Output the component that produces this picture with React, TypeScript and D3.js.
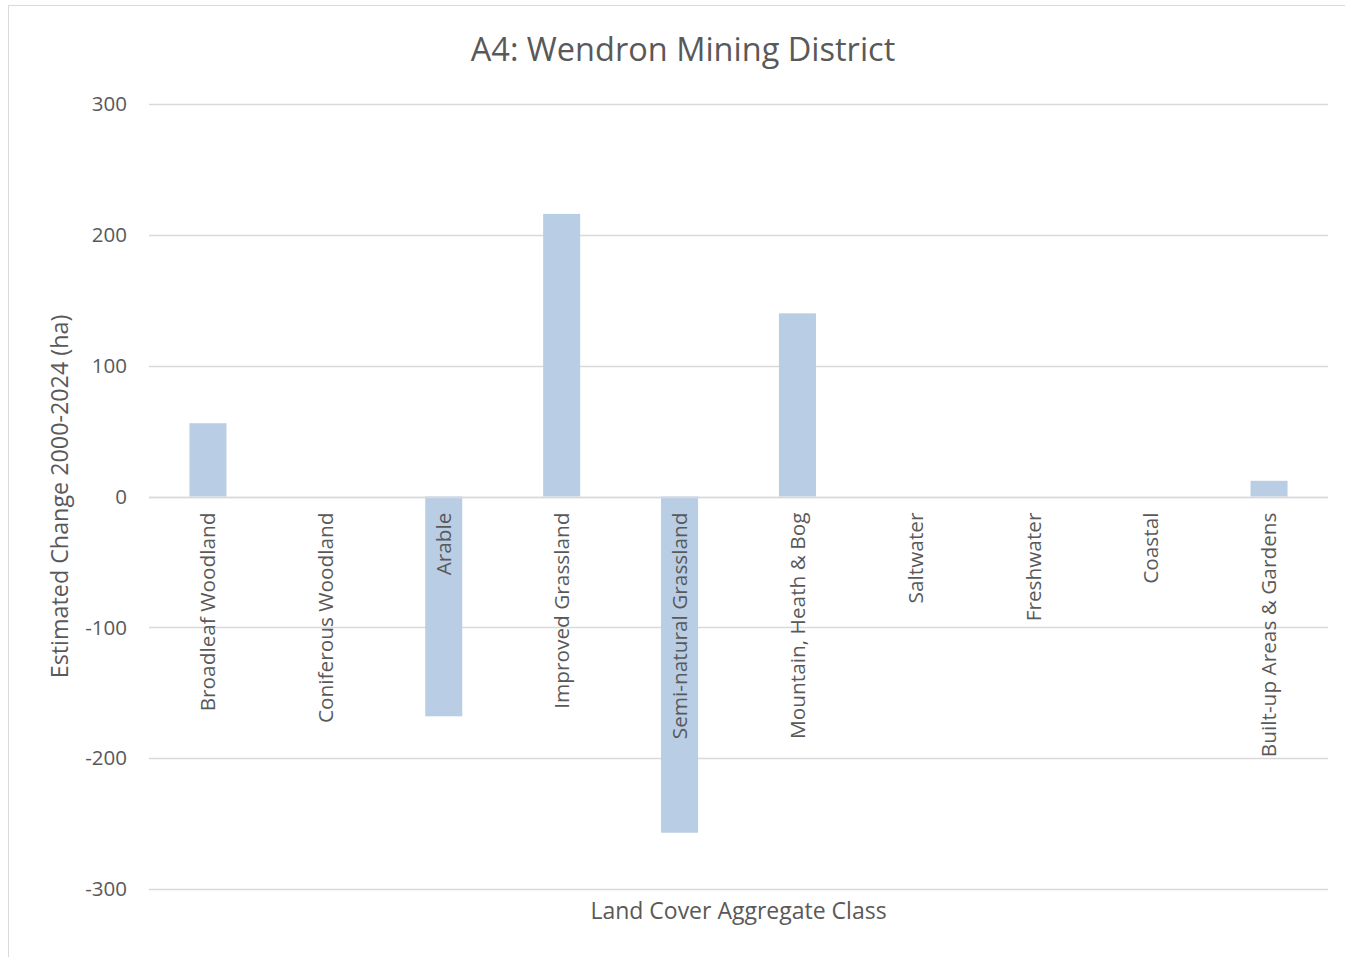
import React from "react";
import * as d3 from "d3";

const categories = [
  "Broadleaf Woodland",
  "Coniferous Woodland",
  "Arable",
  "Improved Grassland",
  "Semi-natural Grassland",
  "Mountain, Heath & Bog",
  "Saltwater",
  "Freshwater",
  "Coastal",
  "Built-up Areas & Gardens",
];
const changeValues = [56, 0, -168, 216, -257, 140, 0, 0, 0, 12];
const yTicks = [-300, -200, -100, 0, 100, 200, 300];

const W = 1345;
const H = 957;
const margin = { top: 104, right: 17, bottom: 68, left: 149 };
const FONT = "'Open Sans', 'Noto Sans', sans-serif";
const TEXT = "#595959";

const App = () => {
  const ref = React.useRef<SVGSVGElement>(null);

  React.useEffect(() => {
    const svg = d3.select(ref.current);
    svg.selectAll("*").remove();

    const x = d3.scaleBand().domain(categories).range([margin.left, W - margin.right]).paddingInner(0.686).paddingOuter(0.343);
    const y = d3.scaleLinear().domain([-300, 300]).range([H - margin.bottom, margin.top]);

    // chart frame (bottom edge falls off the page)
    svg.append("rect")
      .attr("x", 8.5).attr("y", 5.5)
      .attr("width", W).attr("height", 970)
      .style("fill", "white").style("stroke", "#d9d9d9");

    // gridlines
    svg.selectAll(".grid")
      .data(yTicks).enter()
      .append("line")
      .attr("x1", margin.left).attr("x2", W - margin.right)
      .attr("y1", (d) => Math.round(y(d)) + 0.5).attr("y2", (d) => Math.round(y(d)) + 0.5)
      .style("stroke", "#d9d9d9").style("stroke-width", "1.5px");

    // tick labels
    svg.selectAll(".tick")
      .data(yTicks).enter()
      .append("text")
      .attr("x", 127).attr("y", (d) => y(d))
      .attr("dy", "0.35em")
      .style("text-anchor", "end")
      .style("font-family", FONT).style("font-size", "20.5px").style("fill", TEXT)
      .text((d) => d);

    // bars
    svg.selectAll(".bar")
      .data(changeValues).enter()
      .append("rect")
      .attr("x", (d, i) => x(categories[i]) as number)
      .attr("width", x.bandwidth())
      .attr("y", (d) => y(Math.max(0, d)))
      .attr("height", (d) => Math.abs(y(d) - y(0)))
      .style("fill", "#b9cde5");

    // zero line on top of bars
    svg.append("line")
      .attr("x1", margin.left).attr("x2", W - margin.right)
      .attr("y1", Math.round(y(0)) + 0.5).attr("y2", Math.round(y(0)) + 0.5)
      .style("stroke", "#d9d9d9").style("stroke-width", "1.5px");

    // category labels
    svg.selectAll(".cat")
      .data(categories).enter()
      .append("text")
      .attr("transform", (d) => `translate(${(x(d) as number) + x.bandwidth() / 2},${y(0) + 16}) rotate(-90)`)
      .attr("dy", "0.35em")
      .style("text-anchor", "end")
      .style("font-family", FONT).style("font-size", "20.8px").style("fill", TEXT)
      .text((d) => d);

    // title
    svg.append("text")
      .attr("x", 683).attr("y", 61)
      .style("text-anchor", "middle")
      .style("font-family", FONT).style("font-size", "32.5px").style("fill", TEXT)
      .text("A4: Wendron Mining District");

    // axis titles
    svg.append("text")
      .attr("transform", `translate(60,${y(0)}) rotate(-90)`)
      .attr("dy", "0.35em")
      .style("text-anchor", "middle")
      .style("font-family", FONT).style("font-size", "23.3px").style("fill", TEXT)
      .text("Estimated Change 2000-2024 (ha)");

    svg.append("text")
      .attr("x", (margin.left + W - margin.right) / 2).attr("y", 911)
      .attr("dy", "0.35em")
      .style("text-anchor", "middle")
      .style("font-family", FONT).style("font-size", "23px").style("fill", TEXT)
      .text("Land Cover Aggregate Class");
  }, []);

  return (
    <svg ref={ref} width={W} height={H} style={{ position: "absolute", left: 0, top: 0 }} />
  );
};

export default App;
